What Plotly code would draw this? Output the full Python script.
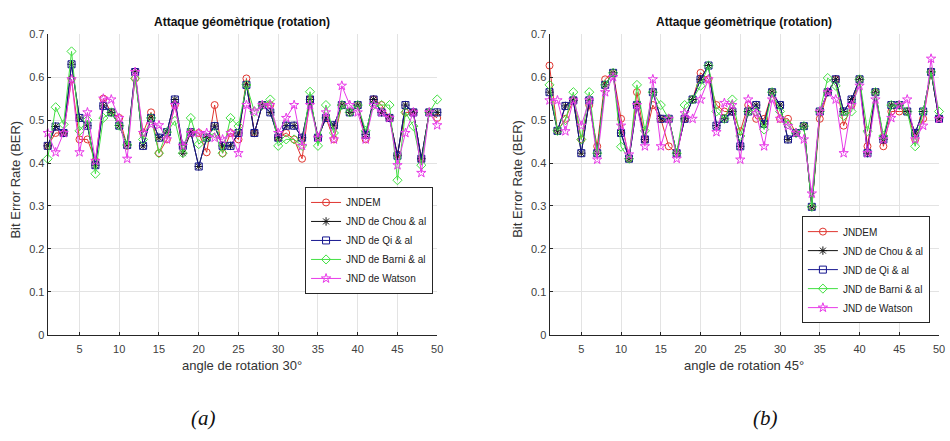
"""
    BER under rotation attack, 30 and 45 degrees
"""

import plotly.graph_objs as go

IMAGES = list(range(1, 51))

NAMES = ["JNDEM", "JND de Chou & al", "JND de Qi & al", "JND de Barni & al", "JND de Watson"]

# rotation 30 degrees
JNDEM_30 = [0.44, 0.47, 0.47, 0.595, 0.455, 0.455, 0.405, 0.55, 0.518, 0.505,
            0.44, 0.597, 0.47, 0.518, 0.423, 0.455, 0.535, 0.44, 0.47, 0.47,
            0.425, 0.535, 0.423, 0.47, 0.455, 0.597, 0.47, 0.535, 0.535, 0.459,
            0.47, 0.455, 0.41, 0.548, 0.459, 0.505, 0.455, 0.535, 0.518, 0.535,
            0.455, 0.548, 0.535, 0.505, 0.42, 0.518, 0.518, 0.41, 0.518, 0.505]
CHOU_30 = [0.44, 0.485, 0.47, 0.63, 0.505, 0.487, 0.395, 0.533, 0.518, 0.487,
           0.442, 0.612, 0.44, 0.505, 0.459, 0.472, 0.548, 0.423, 0.472, 0.392,
           0.459, 0.486, 0.44, 0.44, 0.47, 0.582, 0.47, 0.535, 0.518, 0.459,
           0.487, 0.487, 0.459, 0.548, 0.459, 0.505, 0.488, 0.535, 0.518, 0.535,
           0.466, 0.548, 0.518, 0.505, 0.417, 0.535, 0.518, 0.41, 0.518, 0.518]
QI_30 = [0.44, 0.485, 0.47, 0.63, 0.505, 0.487, 0.395, 0.533, 0.518, 0.487,
         0.442, 0.612, 0.44, 0.505, 0.459, 0.472, 0.548, 0.44, 0.472, 0.392,
         0.459, 0.486, 0.44, 0.44, 0.47, 0.582, 0.47, 0.535, 0.518, 0.459,
         0.487, 0.487, 0.459, 0.548, 0.459, 0.505, 0.488, 0.535, 0.518, 0.535,
         0.466, 0.548, 0.518, 0.505, 0.417, 0.535, 0.518, 0.41, 0.518, 0.518]
BARNI_30 = [0.41, 0.53, 0.49, 0.66, 0.475, 0.50, 0.375, 0.505, 0.518, 0.487,
            0.442, 0.597, 0.455, 0.505, 0.423, 0.472, 0.498, 0.423, 0.505, 0.444,
            0.459, 0.47, 0.423, 0.505, 0.486, 0.582, 0.52, 0.535, 0.548, 0.44,
            0.455, 0.455, 0.44, 0.566, 0.44, 0.535, 0.47, 0.535, 0.518, 0.535,
            0.475, 0.535, 0.535, 0.535, 0.36, 0.518, 0.486, 0.395, 0.518, 0.548]
WATSON_30 = [0.47, 0.425, 0.47, 0.595, 0.425, 0.518, 0.405, 0.55, 0.548, 0.505,
             0.41, 0.612, 0.47, 0.49, 0.488, 0.455, 0.535, 0.44, 0.47, 0.47,
             0.47, 0.459, 0.455, 0.47, 0.423, 0.535, 0.52, 0.535, 0.535, 0.47,
             0.505, 0.535, 0.44, 0.535, 0.459, 0.518, 0.455, 0.58, 0.535, 0.518,
             0.455, 0.535, 0.518, 0.505, 0.395, 0.47, 0.518, 0.377, 0.518, 0.488]

# rotation 45 degrees
JNDEM_45 = [0.627, 0.475, 0.503, 0.546, 0.455, 0.535, 0.439, 0.595, 0.61, 0.503,
            0.41, 0.565, 0.455, 0.535, 0.503, 0.439, 0.423, 0.503, 0.548, 0.61,
            0.595, 0.535, 0.52, 0.52, 0.474, 0.535, 0.503, 0.503, 0.565, 0.503,
            0.503, 0.47, 0.486, 0.298, 0.503, 0.565, 0.595, 0.487, 0.535, 0.595,
            0.439, 0.565, 0.439, 0.52, 0.52, 0.52, 0.455, 0.503, 0.612, 0.503]
CHOU_45 = [0.565, 0.475, 0.533, 0.546, 0.423, 0.546, 0.423, 0.582, 0.61, 0.47,
           0.41, 0.535, 0.455, 0.565, 0.503, 0.503, 0.423, 0.503, 0.548, 0.595,
           0.627, 0.487, 0.503, 0.52, 0.439, 0.52, 0.535, 0.491, 0.565, 0.535,
           0.455, 0.47, 0.486, 0.298, 0.52, 0.565, 0.595, 0.52, 0.548, 0.595,
           0.423, 0.565, 0.455, 0.535, 0.535, 0.52, 0.47, 0.52, 0.612, 0.503]
QI_45 = [0.565, 0.475, 0.533, 0.546, 0.423, 0.546, 0.423, 0.582, 0.61, 0.47,
         0.41, 0.535, 0.455, 0.565, 0.503, 0.503, 0.423, 0.503, 0.548, 0.595,
         0.627, 0.487, 0.503, 0.52, 0.439, 0.52, 0.535, 0.491, 0.565, 0.535,
         0.455, 0.47, 0.486, 0.298, 0.52, 0.565, 0.595, 0.52, 0.548, 0.595,
         0.423, 0.565, 0.455, 0.535, 0.535, 0.52, 0.47, 0.52, 0.612, 0.503]
BARNI_45 = [0.582, 0.475, 0.50, 0.565, 0.455, 0.565, 0.423, 0.582, 0.61, 0.438,
            0.41, 0.582, 0.475, 0.565, 0.535, 0.503, 0.423, 0.535, 0.548, 0.58,
            0.627, 0.52, 0.503, 0.548, 0.463, 0.52, 0.52, 0.478, 0.565, 0.52,
            0.49, 0.47, 0.486, 0.298, 0.52, 0.598, 0.58, 0.51, 0.52, 0.595,
            0.474, 0.565, 0.463, 0.535, 0.535, 0.52, 0.439, 0.52, 0.612, 0.52]
WATSON_45 = [0.546, 0.546, 0.474, 0.546, 0.487, 0.546, 0.408, 0.565, 0.60, 0.487,
             0.42, 0.535, 0.439, 0.595, 0.439, 0.503, 0.41, 0.516, 0.503, 0.548,
             0.595, 0.472, 0.54, 0.535, 0.408, 0.548, 0.516, 0.439, 0.548, 0.503,
             0.486, 0.47, 0.455, 0.329, 0.52, 0.565, 0.548, 0.423, 0.535, 0.58,
             0.423, 0.548, 0.455, 0.505, 0.535, 0.548, 0.455, 0.487, 0.643, 0.503]

COLORS = ["#e0352f", "#111111", "#16168f", "#42e042", "#e83ae8"]
SYMBOLS = ["circle-open", "asterisk-open", "square-open", "diamond-open", "star-open"]

FONT = "Liberation Sans, Arial, sans-serif"
W, H = 950, 441


def add_series(fig, series, xaxis, yaxis, legend):
    """ One line per JND model on the given axes """
    for name, values, color, symbol in zip(NAMES, series, COLORS, SYMBOLS):
        fig.add_trace(
            go.Scatter(
                x=IMAGES, y=values, name=name, mode="lines+markers",
                xaxis=xaxis, yaxis=yaxis, legend=legend, cliponaxis=False,
                line={"color": color, "width": 1},
                marker={"symbol": symbol, "size": 7, "color": color,
                        "line": {"color": color, "width": 1}},
            )
        )


def axis_style(domain):
    return {
        "domain": domain, "showgrid": True, "gridcolor": "#e3e3e3", "gridwidth": 1,
        "zeroline": False, "showline": True, "linecolor": "#262626", "linewidth": 1,
        "ticks": "inside", "ticklen": 3, "tickcolor": "#262626",
        "tickfont": {"family": FONT, "size": 11, "color": "#404040"},
    }


def label(px, py, text, size, family=FONT, angle=0, color="#333333"):
    """ Text placed by its centre, in pixels from the top-left corner """
    return dict(
        x=px / W, y=1 - py / H, xref="paper", yref="paper", showarrow=False,
        xanchor="center", yanchor="middle", textangle=angle, text=text,
        font={"family": family, "size": size, "color": color},
    )


def plot_rotation():
    fig = go.Figure()
    add_series(fig, [JNDEM_30, CHOU_30, QI_30, BARNI_30, WATSON_30], "x", "y", "legend")
    add_series(fig, [JNDEM_45, CHOU_45, QI_45, BARNI_45, WATSON_45], "x2", "y2", "legend2")

    ydom = [1 - 338 / H, 1 - 29 / H]
    xa = axis_style([48 / W, 440 / W])
    xa.update(range=[1, 50], tick0=0, dtick=5, ticklabelstandoff=4)
    xa2 = axis_style([553 / W, 945 / W])
    xa2.update(range=[1, 50], tick0=0, dtick=5, anchor="y2", ticklabelstandoff=4)
    ya = axis_style(ydom)
    ya.update(range=[0, 0.7], dtick=0.1)
    ya2 = axis_style(ydom)
    ya2.update(range=[0, 0.7], dtick=0.1, anchor="x2")

    legend_style = {
        "bgcolor": "white", "bordercolor": "#262626", "borderwidth": 1,
        "font": {"family": FONT, "size": 10, "color": "#222222"},
        "xanchor": "left", "yanchor": "top", "itemwidth": 30,
        "tracegroupgap": 0,
    }

    annotations = []
    for cx, xlabel in [(244, "angle de rotation 30°"), (749, "angle de rotation 45°")]:
        annotations.append(label(cx, 16, "<b>Attaque géomètrique (rotation)</b>", 12, color="#111111"))
        annotations.append(label(cx, 370, xlabel, 13))
    for cx in [15.5, 520]:
        annotations.append(label(cx, 178, "Bit Error Rate (BER)", 13, angle=-90))
    for cx, tag in [(205, "(a)"), (770, "(b)")]:
        annotations.append(label(cx, 424, "<i>" + tag + "</i>", 21,
                                 family="Liberation Serif, Times New Roman, serif", color="#111111"))

    layout = go.Layout(
        width=W, height=H,
        margin={"l": 0, "r": 0, "t": 0, "b": 0},
        paper_bgcolor="white", plot_bgcolor="white",
        xaxis=xa, yaxis=ya, xaxis2=xa2, yaxis2=ya2,
        legend=dict(legend_style, x=307 / W, y=1 - 186 / H),
        legend2=dict(legend_style, x=807 / W, y=1 - 216 / H),
        annotations=annotations,
        showlegend=True,
    )
    fig.update_layout(layout)
    return fig


fig = plot_rotation()
fig.write_html("out.html", config={"displayModeBar": False},
               post_script="document.body.style.margin = '0px';")
